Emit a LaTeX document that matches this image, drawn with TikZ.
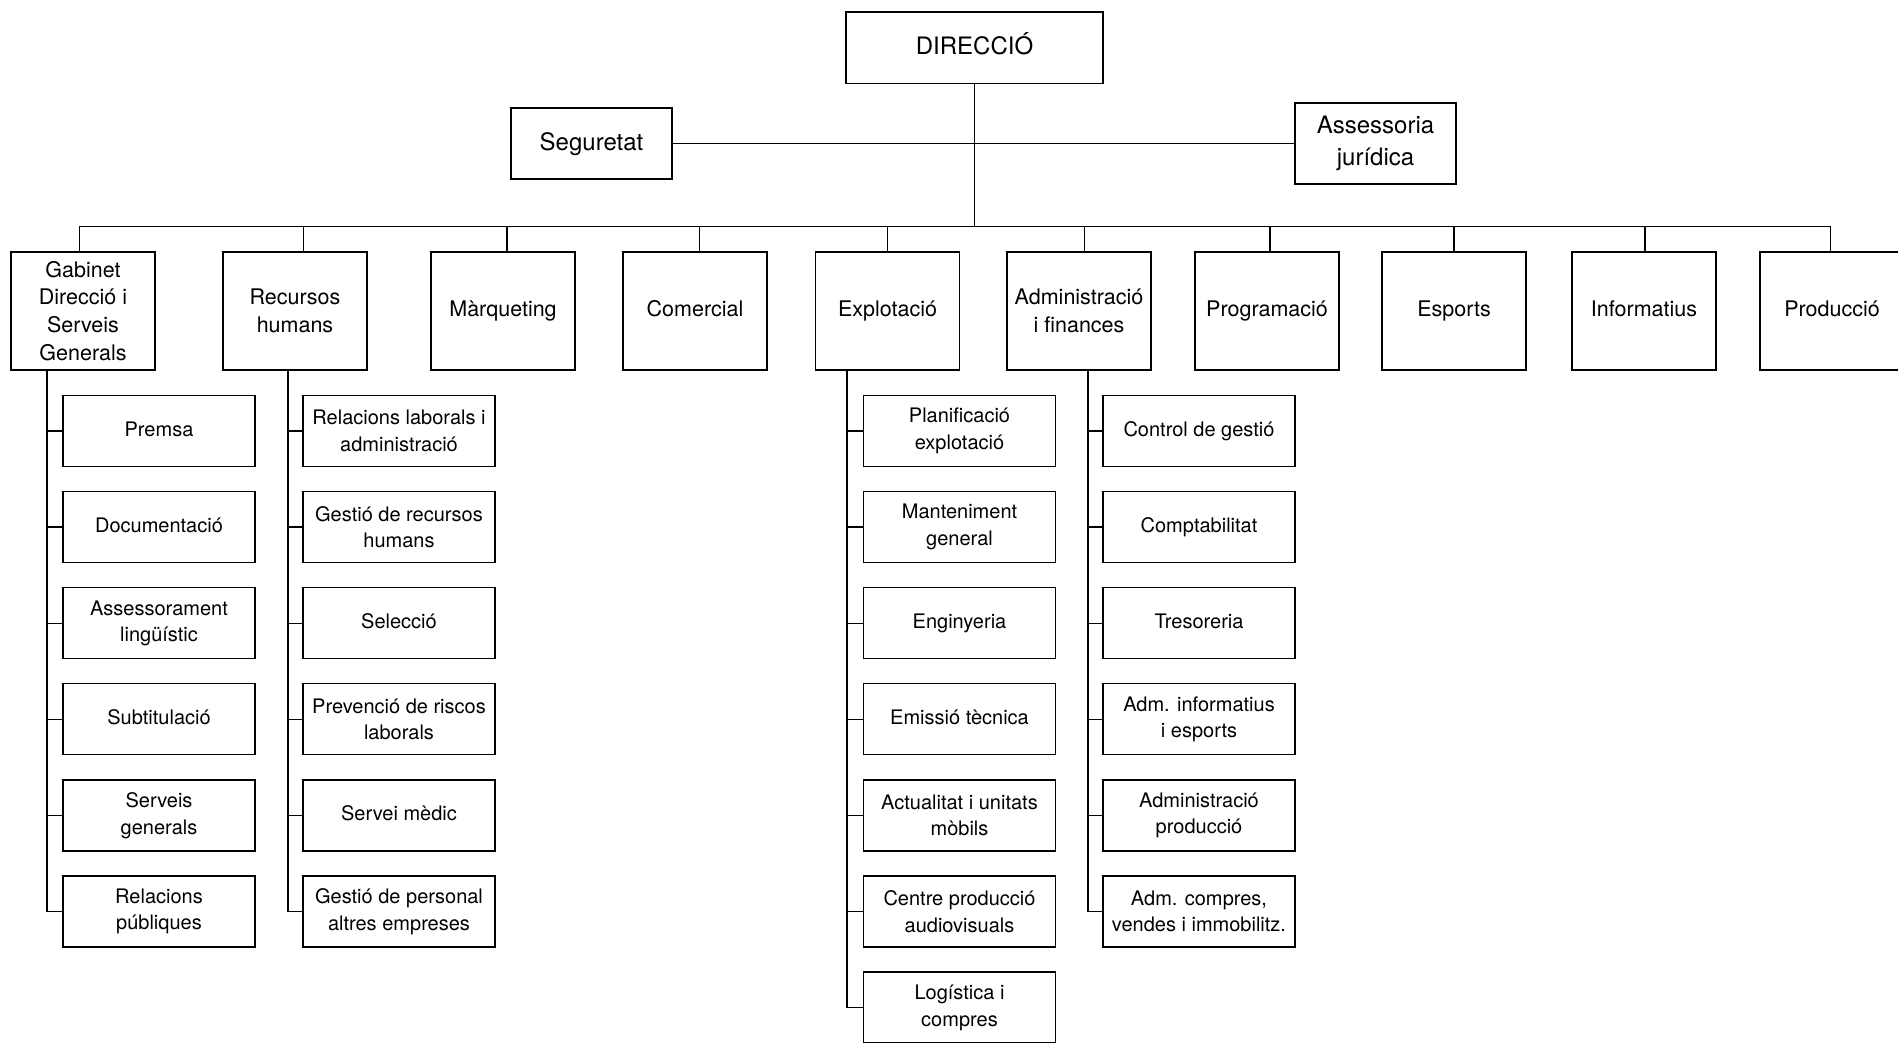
\documentclass[tikz,border=0pt]{standalone}
\usepackage{fontspec}
\setmainfont{TeX Gyre Heros}
\begin{document}
\begin{tikzpicture}[x=1pt,y=-1pt,
  line width=1.3pt,
  sgl/.style={execute at begin node=\strut, execute at end node=\strut},
  mlt/.style={execute at begin node=\rule{0pt}{1.02\baselineskip}},
  topbox/.style={draw, inner sep=0pt, align=center, font=\fontsize{24}{32.7}\selectfont},
  mainbox/.style={draw, inner sep=0pt, align=center, minimum width=144pt, minimum height=118pt, font=\fontsize{21.5}{27.8}\selectfont},
  subbox/.style={draw, inner sep=0pt, align=center, minimum width=192pt, minimum height=71pt, font=\fontsize{20}{26.6}\selectfont}]
\useasboundingbox (0,0) rectangle (1898,1042);
% top
\node[topbox, sgl, minimum width=257pt, minimum height=71.5pt] (dir) at (974.5,47.75) {DIRECCIÓ};
\node[topbox, sgl, minimum width=161pt, minimum height=71pt] (seg) at (591.5,143.5) {Seguretat};
\node[topbox, mlt, minimum width=161pt, minimum height=81pt] (ase) at (1375.5,143.5) {Assessoria\\jurídica};
\coordinate (busL) at (79.5,226.4);
\coordinate (busR) at (1830.5,226.4);
\draw (dir.south) -- (dir.south |- busL);
\draw (seg.east) -- (ase.west);
\draw (busL) -- (busR);
% level 1
\node[mainbox, mlt] (gab) at (83,311) {Gabinet\\Direcció i\\Serveis\\Generals};
\node[mainbox, mlt] (rh) at (295,311) {Recursos\\humans};
\node[mainbox, sgl] (mar) at (503,311) {Màrqueting};
\node[mainbox, sgl] (com) at (695,311) {Comercial};
\node[mainbox, sgl] (exp) at (887.5,311) {Explotació};
\node[mainbox, mlt] (adm) at (1079,311) {Administració\\i finances};
\node[mainbox, sgl] (pro) at (1267,311) {Programació};
\node[mainbox, sgl] (esp) at (1454,311) {Esports};
\node[mainbox, sgl] (inf) at (1644,311) {Informatius};
\node[mainbox, sgl] (prd) at (1832,311) {Producció};
\foreach \n/\sx in {gab/79.5, rh/303.7, mar/507, com/699.5, exp/887.5, adm/1084.5, pro/1270, esp/1454, inf/1645, prd/1830.5}{
  \draw (\sx,226.4) -- (\n.north -| \sx,0);
}
% sub columns
\newcommand{\subcol}[4]{% parent, linex, boxx, list of style/label
  \foreach \st/\lbl [count=\i] in {#4}{
    \node[subbox, \st] (#1s\i) at (#3, 431+96.1*\i-96.1) {\lbl};
    \draw (#1s\i.west) -- (#1s\i.west -| #2,0);
  }
}
\subcol{gab}{47}{159}{sgl/Premsa, sgl/Documentació, mlt/{Assessorament\\lingüístic}, sgl/Subtitulació, mlt/{Serveis\\generals}, mlt/{Relacions\\públiques}}
\draw (gab.south -| 47,0) -- (gabs6.west -| 47,0);
\subcol{rh}{288}{399}{mlt/{Relacions laborals i\\administració}, mlt/{Gestió de recursos\\humans}, sgl/Selecció, mlt/{Prevenció de riscos\\laborals}, sgl/Servei mèdic, mlt/{Gestió de personal\\altres empreses}}
\draw (rh.south -| 288,0) -- (rhs6.west -| 288,0);
\subcol{exp}{847}{959.5}{mlt/{Planificació\\explotació}, mlt/{Manteniment\\general}, sgl/Enginyeria, sgl/Emissió tècnica, mlt/{Actualitat i unitats\\mòbils}, mlt/{Centre producció\\audiovisuals}, mlt/{Logística i\\compres}}
\draw (exp.south -| 847,0) -- (exps7.west -| 847,0);
\subcol{adm}{1088}{1199}{sgl/Control de gestió, sgl/Comptabilitat, sgl/Tresoreria, mlt/{Adm. informatius\\i esports}, mlt/{Administració\\producció}, mlt/{Adm. compres,\\vendes i immobilitz.}}
\draw (adm.south -| 1088,0) -- (adms6.west -| 1088,0);
\end{tikzpicture}
\end{document}
